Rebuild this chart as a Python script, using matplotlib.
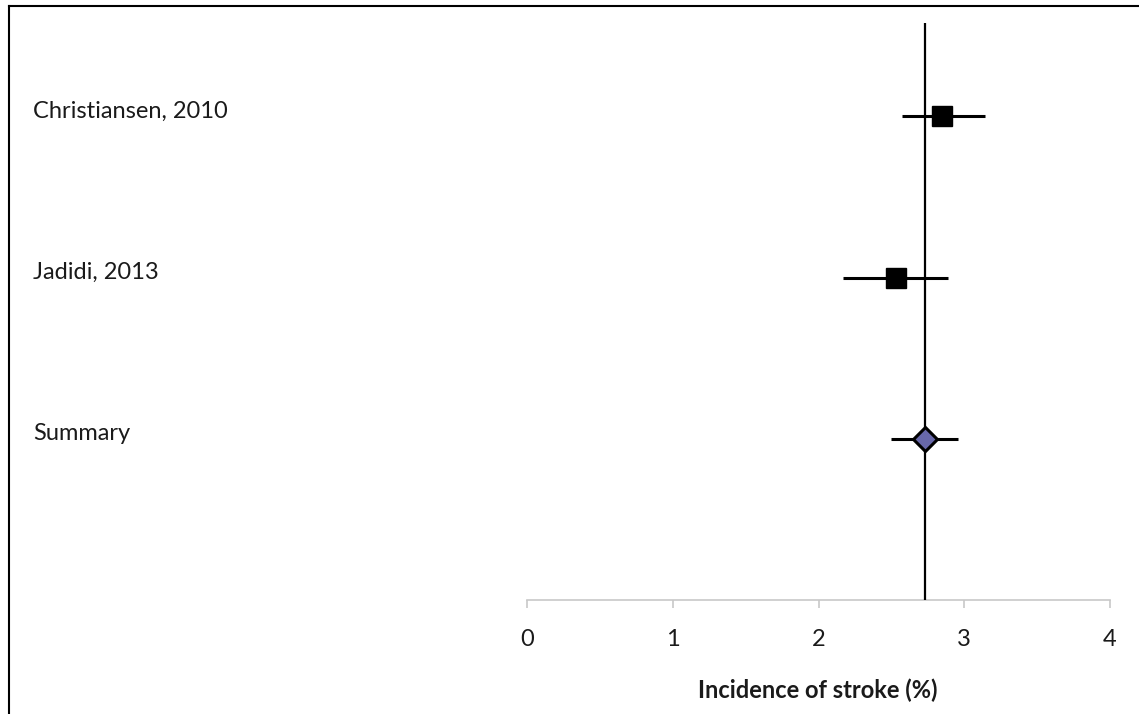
import matplotlib
matplotlib.use("Agg")
import matplotlib.pyplot as plt
from matplotlib.lines import Line2D
from matplotlib.transforms import blended_transform_factory

# data
studies = ['Christiansen, 2010', 'Jadidi, 2013', 'Summary']
estimate = [2.85, 2.53, 2.73]
ci_low = [2.57, 2.17, 2.50]
ci_high = [3.14, 2.89, 2.96]
summary_line = 2.73
xticks = [0, 1, 2, 3, 4]
xlabel = 'Incidence of stroke (%)'

plt.rcParams['font.family'] = ['Lato', 'DejaVu Sans']

fig = plt.figure(figsize=(11.39, 7.14), dpi=100)
ax = fig.add_axes([527 / 1139, 1 - 600 / 714, 583 / 1139, 577 / 714])
label_tr = blended_transform_factory(fig.transFigure, ax.transData)

rows = [3, 2, 1]
for y, est, lo, hi, name in zip(rows, estimate, ci_low, ci_high, studies):
    ax.plot([lo, hi], [y, y], color='black', lw=2.2, solid_capstyle='butt', zorder=3)
    if name == 'Summary':
        ax.plot(est, y, marker='D', ms=12.5, mfc='#6868aa', mec='black', mew=2.2,
                linestyle='none', zorder=5)
    else:
        ax.plot(est, y, marker='s', ms=14, mfc='black', mec='black',
                linestyle='none', zorder=5)
    # study label on the far left of the figure
    ax.text(33 / 1139, y + 0.03, name, transform=label_tr,
            ha='left', va='center', fontsize=17, color='#1a1a1a')

ax.axvline(summary_line, color='black', lw=1.6, zorder=4)

ax.set_xlim(0, 4)
ax.set_ylim(0, 3.58)
ax.set_xticks(xticks)
ax.set_xticklabels([str(t) for t in xticks])
ax.set_yticks([])
for s in ['top', 'right', 'left']:
    ax.spines[s].set_visible(False)
ax.spines['bottom'].set_color('#c8c8c8')
ax.spines['bottom'].set_linewidth(1.2)
ax.tick_params(axis='x', direction='out', length=6, width=1.2, color='#c8c8c8',
               pad=15, labelsize=17, labelcolor='#1a1a1a')

fig.text(818 / 1139, 1 - 690 / 714, xlabel, ha='center', va='center',
         fontsize=17, fontweight='bold', color='#1a1a1a')

# frame lines along the top and left of the picture
fig.add_artist(Line2D([9 / 1139, 1], [1 - 6 / 714, 1 - 6 / 714], transform=fig.transFigure,
                      color='black', lw=1.5))
fig.add_artist(Line2D([9 / 1139, 9 / 1139], [0, 1 - 6 / 714], transform=fig.transFigure,
                      color='black', lw=1.5))

fig.savefig('out.png', dpi=100)
